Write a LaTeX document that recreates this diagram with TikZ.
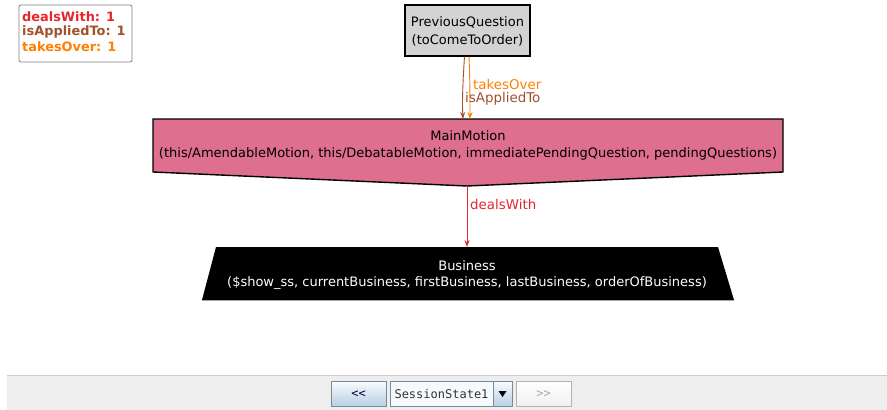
\documentclass[tikz,border=0pt]{standalone}
\usepackage{fontspec}
\setmainfont{DejaVu Sans}
\newfontfamily\uifont{DejaVu Sans Mono}
\usetikzlibrary{arrows.meta,shapes.geometric}
\definecolor{cDeals}{RGB}{230,38,45}
\definecolor{cApplied}{RGB}{160,82,45}
\definecolor{cTakes}{RGB}{255,128,0}
\definecolor{cMotion}{RGB}{222,111,143}
\definecolor{cPrev}{RGB}{211,211,211}
\definecolor{cBar}{RGB}{238,238,238}
\definecolor{cBtnTop}{RGB}{250,252,254}
\definecolor{cBtnBot}{RGB}{184,207,229}
\definecolor{cBtnLine}{RGB}{122,138,153}
\tikzset{
  lbl/.style={font=\fontsize{13}{17}\selectfont, align=center, inner sep=0pt},
  leg/.style={font=\bfseries\fontsize{12.9}{15}\selectfont, anchor=west, inner sep=0pt},
  edgelbl/.style={font=\fontsize{13.4}{14}\selectfont, anchor=west, inner sep=0pt},
  rel/.style={line width=0.9pt, -{Stealth[length=7pt,width=5pt]}},
  btn/.style={draw=cBtnLine, top color=cBtnTop, bottom color=cBtnBot, line width=0.6pt},
  btngray/.style={draw=gray!60, top color=white, bottom color=gray!12, line width=0.6pt},
  ui/.style={font=\uifont\fontsize{12}{13}\selectfont, inner sep=0pt}
}
\begin{document}
\begin{tikzpicture}[x=1pt,y=-1pt]
\useasboundingbox (0,0) rectangle (887,410);
\fill[white] (0,0) rectangle (887,410);

% legend
\draw[gray, line width=0.8pt, rounded corners=2pt] (19,5) rectangle (132,62);
\node[leg, text=cDeals]   (legDeals)   at (22,17) {dealsWith: 1};
\node[leg, text=cApplied] (legApplied) at (22,32) {isAppliedTo: 1};
\node[leg, text=cTakes]   (legTakes)   at (22,47) {takesOver: 1};

% PreviousQuestion
\node[draw=black, fill=cPrev, line width=1.2pt, minimum width=125pt, minimum height=51pt,
      inner sep=0pt] (pq) at (467.5,30.5) {};
\node[lbl, font=\fontsize{13}{18}\selectfont] (pqtxt) at (467.5,31) {PreviousQuestion\\(toComeToOrder)};

% MainMotion (pentagon pointing down)
\coordinate (mmTip) at (467,186);
\coordinate (mmTopA) at (463,119);
\coordinate (mmTopB) at (470,119);
\draw[fill=cMotion, line width=1.4pt, line join=miter]
  (153,119) -- (783,119) -- (783,172) -- (mmTip) -- (153,172) -- cycle;
\node[lbl] (mm) at (468,145.5)
  {MainMotion\\(this/AmendableMotion, this/DebatableMotion, immediatePendingQuestion, pendingQuestions)};

% Business (trapezium)
\coordinate (busTop) at (467,247);
\fill[black] (216,247) -- (718,247) -- (734,300) -- (202,300) -- cycle;
\draw[gray!70, line width=0.6pt] (202,300) -- (734,300);
\node[lbl, font=\fontsize{13}{16}\selectfont, text=white] (bus) at (467,275)
  {Business\\(\$show\_ss, currentBusiness, firstBusiness, lastBusiness, orderOfBusiness)};

% relations
\draw[rel, cApplied] ([xshift=-3pt]pq.south) .. controls (463,80) and (462,100) .. (mmTopA);
\draw[rel, cTakes]   ([xshift=1.5pt]pq.south) .. controls (470,80) and (470,100) .. (mmTopB);
\node[edgelbl, text=cTakes]   (lblTakes)   at (473,85) {takesOver};
\node[edgelbl, text=cApplied] (lblApplied) at (465,99) {isAppliedTo};
\draw[rel, cDeals] (mmTip) -- (busTop);
\node[edgelbl, text=cDeals] (lblDeals) at (470,205) {dealsWith};

% navigation bar
\fill[cBar] (7,375) rectangle (887,410);
\draw[gray!40, line width=1pt] (7,375) -- (887,375);
\node[btn, minimum width=55pt, minimum height=25pt, inner sep=0pt] (prevBtn) at (358.5,393.5) {};
\node[ui, text=black!80!blue] (prevTxt) at (358.5,394) {<<};
\node[draw=cBtnLine, fill=cBtnTop!60!cBtnBot!25!white, line width=0.6pt, minimum width=103pt,
      minimum height=25pt, inner sep=0pt] (stateBox) at (441.5,393.5) {};
\node[ui, text=black!80] (stateTxt) at (441.5,394) {SessionState1};
\node[btn, minimum width=19pt, minimum height=25pt, inner sep=0pt] (dropBtn) at (502.5,393.5) {};
\fill[black] (498.5,391) -- (506.5,391) -- (502.5,397) -- cycle;
\node[btngray, minimum width=55pt, minimum height=25pt, inner sep=0pt] (nextBtn) at (543.5,393.5) {};
\node[ui, text=gray!70] (nextTxt) at (543.5,394) {>>};
\end{tikzpicture}
\end{document}
